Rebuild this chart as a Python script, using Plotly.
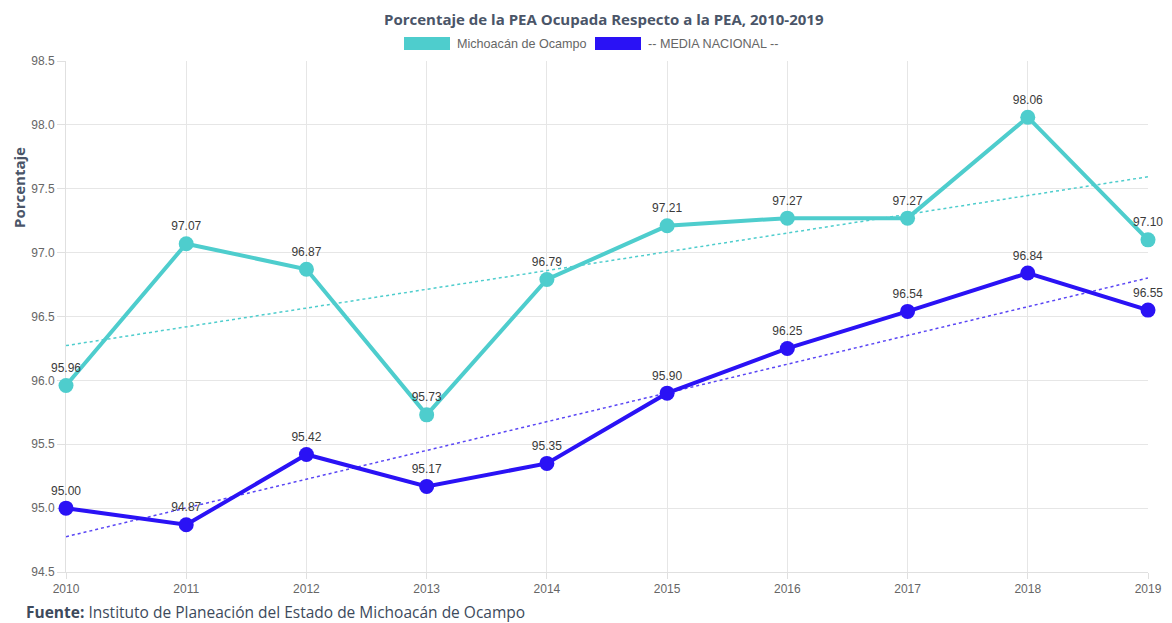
import numpy as np
import plotly.graph_objects as go

years = [2010, 2011, 2012, 2013, 2014, 2015, 2016, 2017, 2018, 2019]
michoacan = [95.96, 97.07, 96.87, 95.73, 96.79, 97.21, 97.27, 97.27, 98.06, 97.10]
nacional = [95.00, 94.87, 95.42, 95.17, 95.35, 95.90, 96.25, 96.54, 96.84, 96.55]
y_ticks = [94.5, 95.0, 95.5, 96.0, 96.5, 97.0, 97.5, 98.0, 98.5]

C_MICH = "#4ecdcd"
C_NAC = "#2a12f5"

def trend(xs, ys):
    m, b = np.polyfit(xs, ys, 1)
    return [m * x + b for x in xs]

fig = go.Figure()
fig.add_trace(go.Scatter(x=years, y=trend(years, michoacan), mode="lines",
                         line=dict(color=C_MICH, width=1.5, dash="dot"),
                         showlegend=False, hoverinfo="skip"))
fig.add_trace(go.Scatter(x=years, y=trend(years, nacional), mode="lines",
                         line=dict(color="#5a46f5", width=1.5, dash="dot"),
                         showlegend=False, hoverinfo="skip"))
fig.add_trace(go.Scatter(x=years, y=michoacan, mode="lines+markers+text",
                         name="Michoacán de Ocampo",
                         line=dict(color=C_MICH, width=4),
                         marker=dict(size=15, color=C_MICH),
                         text=[f"{v:.2f}" for v in michoacan],
                         textposition="top center",
                         textfont=dict(size=12, color="#3a3a3a", family="Arial"),
                         showlegend=False, cliponaxis=False))
fig.add_trace(go.Scatter(x=years, y=nacional, mode="lines+markers+text",
                         name="-- MEDIA NACIONAL --",
                         line=dict(color=C_NAC, width=4),
                         marker=dict(size=15, color=C_NAC),
                         text=[f"{v:.2f}" for v in nacional],
                         textposition="top center",
                         textfont=dict(size=12, color="#3a3a3a", family="Arial"),
                         showlegend=False, cliponaxis=False))

# page body has an 8px margin: figure coordinates = screen coordinates - 8
OX, OY = 8, 8
W, H = 1172 - 2 * OX, 623 - OY
L, T = 66 - OX, 61 - OY
R = (OX + W) - 1148
B = H - (572 - OY)
pw, ph = W - L - R, H - T - B
def pxp(x): return (x - OX - L) / pw
def pyp(y): return (H - B - (y - OY)) / ph

shapes = [
    dict(type="rect", xref="paper", yref="paper",
         x0=pxp(404), x1=pxp(450), y0=pyp(50), y1=pyp(37),
         fillcolor=C_MICH, line=dict(width=0)),
    dict(type="rect", xref="paper", yref="paper",
         x0=pxp(595), x1=pxp(641), y0=pyp(50), y1=pyp(37),
         fillcolor=C_NAC, line=dict(width=0)),
]
annotations = [
    dict(text="Michoacán de Ocampo", xref="paper", yref="paper", x=pxp(455), y=pyp(43.5),
         xanchor="left", yanchor="middle", showarrow=False,
         font=dict(size=12.6, color="#666", family="Arial")),
    dict(text="-- MEDIA NACIONAL --", xref="paper", yref="paper", x=pxp(646), y=pyp(43.5),
         xanchor="left", yanchor="middle", showarrow=False,
         font=dict(size=12.6, color="#666", family="Arial")),
    dict(text="<b>Fuente:</b> Instituto de Planeación del Estado de Michoacán de Ocampo",
         xref="paper", yref="paper", x=pxp(24), y=pyp(612),
         xanchor="left", yanchor="middle", showarrow=False,
         font=dict(size=15.5, color="#3d4a5c", family="Open Sans")),
    dict(text="<b>Porcentaje</b>", xref="paper", yref="paper", x=pxp(19), y=pyp(188),
         xanchor="center", yanchor="middle", textangle=-90, showarrow=False,
         font=dict(size=15, color="#4a5568", family="Open Sans")),
    dict(text="<b>Porcentaje de la PEA Ocupada Respecto a la PEA, 2010-2019</b>",
         xref="paper", yref="paper", x=pxp(604), y=pyp(OY),
         xanchor="center", yanchor="top", showarrow=False, borderpad=0,
         font=dict(size=15, color="#4a5568", family="Open Sans")),
]

fig.update_layout(
    width=W, height=H,
    margin=dict(l=L, r=R, t=T, b=B),
    paper_bgcolor="white", plot_bgcolor="white",
    shapes=shapes, annotations=annotations,
    xaxis=dict(range=[2010, 2019], tickmode="array", tickvals=years,
               ticktext=[str(y) for y in years], automargin=False,
               showgrid=True, gridcolor="#e6e6e6", zeroline=False,
               showline=True, linecolor="#e0e0e0", layer="below traces",
               ticks="outside", ticklen=6, tickcolor="#e0e0e0",
               tickfont=dict(size=12, color="#666", family="Arial")),
    yaxis=dict(range=[94.5, 98.5], tickmode="array", tickvals=y_ticks,
               ticktext=[f"{v:.1f}" for v in y_ticks], automargin=False,
               showgrid=True, gridcolor="#e6e6e6", zeroline=False,
               showline=True, linecolor="#e0e0e0", layer="below traces",
               ticks="outside", ticklen=8, tickcolor="#e0e0e0",
               tickfont=dict(size=12, color="#666", family="Arial")),
)

fig.write_html("out.html")
